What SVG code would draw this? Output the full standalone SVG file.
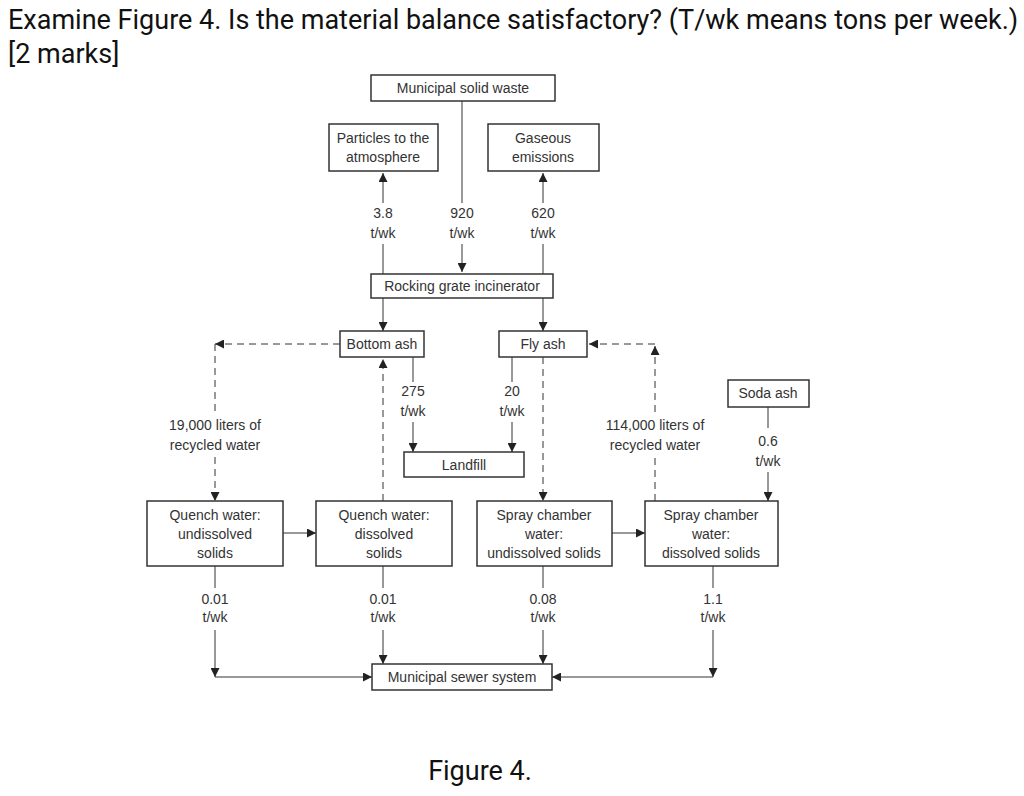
<svg xmlns="http://www.w3.org/2000/svg" width="1024" height="796" viewBox="0 0 1024 796">
<style>
.b{fill:#fff;stroke:#333;stroke-width:1.5}
.t{font-family:"Liberation Sans",Arial,sans-serif;font-size:14px;fill:#333;text-anchor:middle}
.c{stroke:#333;stroke-width:1;fill:none}
.d{stroke:#333;stroke-width:1;fill:none;stroke-dasharray:7,5}
.h{font-family:Roboto,"Liberation Sans",sans-serif;font-size:27px;fill:#111}
</style>
<defs><marker id="a" viewBox="0 0 10 10" refX="10" refY="5" markerWidth="9" markerHeight="9" markerUnits="userSpaceOnUse" orient="auto"><path d="M0,0L10,5L0,10z" fill="#222"/></marker></defs>
<rect width="1024" height="796" fill="#fff"/>
<text class="h" x="8" y="29">Examine Figure 4. Is the material balance satisfactory? (T/wk means tons per week.)</text>
<text class="h" x="8" y="63">[2 marks]</text>
<text class="h" x="480" y="780" text-anchor="middle">Figure 4.</text>
<g id="connectors">
<path class="c" d="M462,101V203M462,244V272" marker-end="url(#a)"/>
<path class="c" d="M383,274V244M383,203V173" marker-end="url(#a)"/>
<path class="c" d="M543,274V244M543,203V173" marker-end="url(#a)"/>
<path class="c" d="M383,298V331" marker-end="url(#a)"/>
<path class="c" d="M543,298V331" marker-end="url(#a)"/>
<path class="d" d="M340,344H215" marker-end="url(#a)"/>
<path class="d" d="M215,344V412M215,457V501" marker-end="url(#a)"/>
<path class="d" d="M383,501V359" marker-end="url(#a)"/>
<path class="c" d="M413,357V382M413,422V452" marker-end="url(#a)"/>
<path class="c" d="M512,357V382M512,422V452" marker-end="url(#a)"/>
<path class="d" d="M543,357V501" marker-end="url(#a)"/>
<path class="d" d="M655,501V457M655,412V346" marker-end="url(#a)"/>
<path class="d" d="M655,344H589" marker-end="url(#a)"/>
<path class="c" d="M768,407V428M768,472V501" marker-end="url(#a)"/>
<path class="c" d="M283,533H316" marker-end="url(#a)"/>
<path class="c" d="M612,533H645" marker-end="url(#a)"/>
<path class="c" d="M215,566V588M215,630V677" marker-end="url(#a)"/>
<path class="c" d="M215,677H372" marker-end="url(#a)"/>
<path class="c" d="M383,566V588M383,630V664" marker-end="url(#a)"/>
<path class="c" d="M543,566V588M543,630V664" marker-end="url(#a)"/>
<path class="c" d="M713,566V588M713,630V677" marker-end="url(#a)"/>
<path class="c" d="M713,677H552" marker-end="url(#a)"/>
<text class="t" x="383" y="218">3.8</text><text class="t" x="383" y="238">t/wk</text>
<text class="t" x="462" y="218">920</text><text class="t" x="462" y="238">t/wk</text>
<text class="t" x="543" y="218">620</text><text class="t" x="543" y="238">t/wk</text>
<text class="t" x="413" y="396">275</text><text class="t" x="413" y="416">t/wk</text>
<text class="t" x="512" y="396">20</text><text class="t" x="512" y="416">t/wk</text>
<text class="t" x="215" y="430">19,000 liters of</text><text class="t" x="215" y="450">recycled water</text>
<text class="t" x="655" y="430">114,000 liters of</text><text class="t" x="655" y="450">recycled water</text>
<text class="t" x="768" y="446">0.6</text><text class="t" x="768" y="466">t/wk</text>
<text class="t" x="215" y="604">0.01</text><text class="t" x="215" y="622">t/wk</text>
<text class="t" x="383" y="604">0.01</text><text class="t" x="383" y="622">t/wk</text>
<text class="t" x="543" y="604">0.08</text><text class="t" x="543" y="622">t/wk</text>
<text class="t" x="713" y="604">1.1</text><text class="t" x="713" y="622">t/wk</text>
</g>
<g id="msw"><rect class="b" x="371" y="75" width="184" height="26"/><text class="t" x="463" y="93">Municipal solid waste</text></g>
<g id="particles"><rect class="b" x="329" y="124" width="109" height="47"/><text class="t" x="383" y="143">Particles to the</text><text class="t" x="383" y="162">atmosphere</text></g>
<g id="gaseous"><rect class="b" x="488" y="124" width="111" height="47"/><text class="t" x="543" y="143">Gaseous</text><text class="t" x="543" y="162">emissions</text></g>
<g id="incinerator"><rect class="b" x="371" y="274" width="182" height="24"/><text class="t" x="462" y="291">Rocking grate incinerator</text></g>
<g id="bottomash"><rect class="b" x="340" y="331" width="84" height="26"/><text class="t" x="382" y="349">Bottom ash</text></g>
<g id="flyash"><rect class="b" x="499" y="331" width="88" height="26"/><text class="t" x="543" y="349">Fly ash</text></g>
<g id="sodaash"><rect class="b" x="728" y="380" width="81" height="27"/><text class="t" x="768" y="398">Soda ash</text></g>
<g id="landfill"><rect class="b" x="404" y="452" width="120" height="25"/><text class="t" x="464" y="470">Landfill</text></g>
<g id="qu"><rect class="b" x="147" y="501" width="136" height="65"/><text class="t" x="215" y="520">Quench water:</text><text class="t" x="215" y="539">undissolved</text><text class="t" x="215" y="558">solids</text></g>
<g id="qd"><rect class="b" x="316" y="501" width="136" height="65"/><text class="t" x="384" y="520">Quench water:</text><text class="t" x="384" y="539">dissolved</text><text class="t" x="384" y="558">solids</text></g>
<g id="su"><rect class="b" x="477" y="501" width="135" height="65"/><text class="t" x="544" y="520">Spray chamber</text><text class="t" x="544" y="539">water:</text><text class="t" x="544" y="558">undissolved solids</text></g>
<g id="sd"><rect class="b" x="645" y="501" width="133" height="65"/><text class="t" x="711" y="520">Spray chamber</text><text class="t" x="711" y="539">water:</text><text class="t" x="711" y="558">dissolved solids</text></g>
<g id="sewer"><rect class="b" x="372" y="664" width="180" height="26"/><text class="t" x="462" y="682">Municipal sewer system</text></g>
</svg>
